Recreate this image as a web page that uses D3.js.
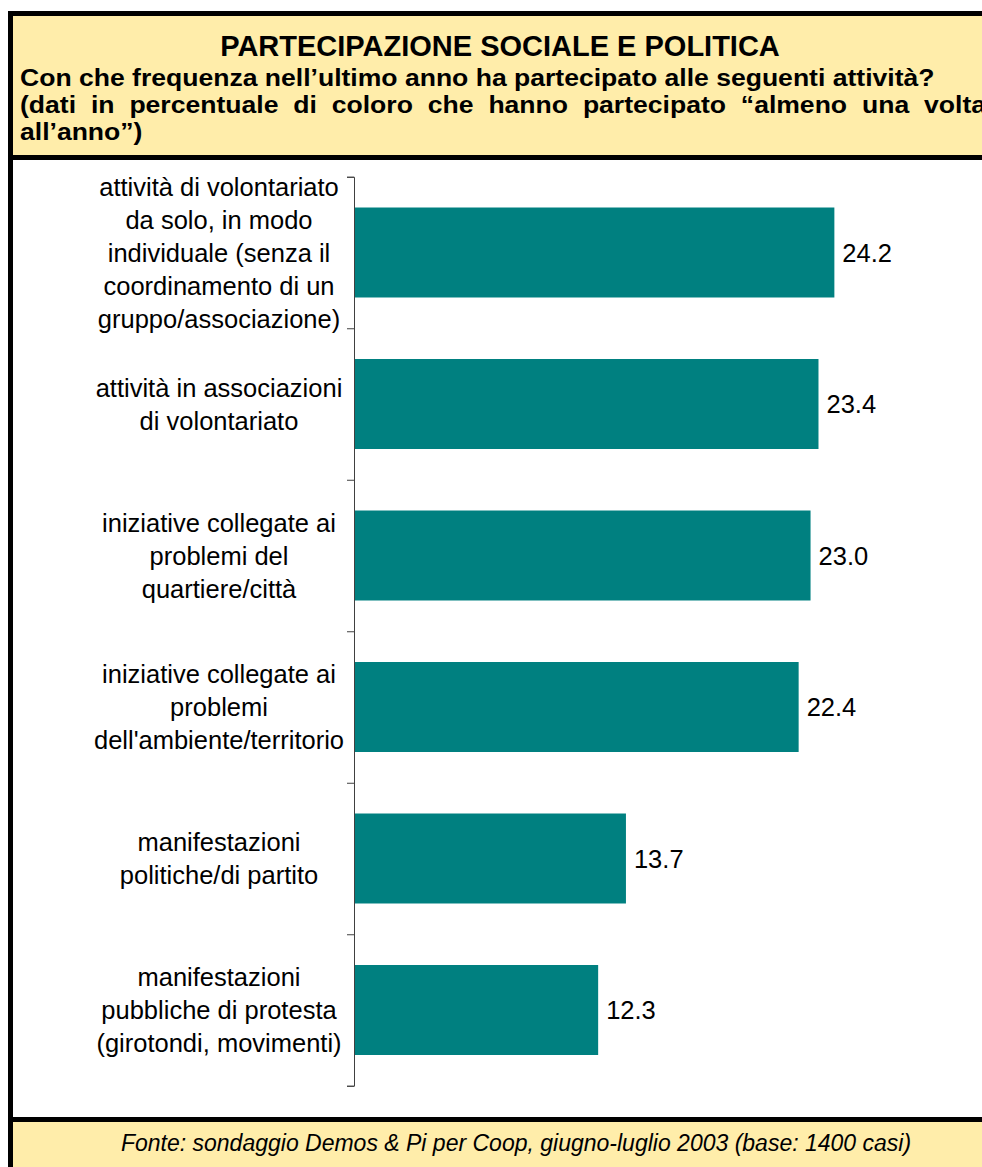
<!DOCTYPE html>
<html>
<head>
<meta charset="utf-8">
<script src="https://cdn.jsdelivr.net/npm/d3@7"></script>
<style>
	body { margin: 0; background: #fff; }
	text { font-family: "Liberation Sans", Arial, sans-serif; }
</style>
</head>
<body>
<div id="viz-holder"></div>
<script>
// categorie (righe dell'etichetta) e valori in %
let labelLines = [
	["attività di volontariato", "da solo, in modo", "individuale (senza il", "coordinamento di un", "gruppo/associazione)"],
	["attività in associazioni", "di volontariato"],
	["iniziative collegate ai", "problemi del", "quartiere/città"],
	["iniziative collegate ai", "problemi", "dell'ambiente/territorio"],
	["manifestazioni", "politiche/di partito"],
	["manifestazioni", "pubbliche di protesta", "(girotondi, movimenti)"]
];
let values = [24.2, 23.4, 23.0, 22.4, 13.7, 12.3];
let categories = labelLines.map(l => l.join(" "));

let title = "PARTECIPAZIONE SOCIALE E POLITICA";
let subtitle = [
	"Con che frequenza nell\u2019ultimo anno ha partecipato alle seguenti attività?",
	"(dati in percentuale di coloro che hanno partecipato \u201calmeno una volta",
	"all\u2019anno\u201d)"
];
let source = "Fonte: sondaggio Demos & Pi per Coop, giugno-luglio 2003 (base: 1400 casi)";

let width = 982, height = 1167;
let yellow = "#FFEDAA";

let svg = d3.select('#viz-holder')
	.append('svg')
	.attr('width', width)
	.attr('height', height);

// cornici
svg.append("rect").attr("x", 13).attr("y", 16).attr("width", width - 13).attr("height", 139).attr("fill", yellow);
svg.append("rect").attr("x", 13).attr("y", 1122).attr("width", width - 13).attr("height", 45).attr("fill", yellow);
svg.append("rect").attr("x", 8).attr("y", 11).attr("width", width - 8).attr("height", 5).attr("fill", "#000");
svg.append("rect").attr("x", 8).attr("y", 155).attr("width", width - 8).attr("height", 5).attr("fill", "#000");
svg.append("rect").attr("x", 8).attr("y", 1117).attr("width", width - 8).attr("height", 5).attr("fill", "#000");
svg.append("rect").attr("x", 8).attr("y", 11).attr("width", 5).attr("height", height - 11).attr("fill", "#000");

// titolo
svg.append("text")
	.attr("x", 500).attr("y", 56)
	.attr("text-anchor", "middle")
	.attr("font-size", 29).attr("font-weight", "bold")
	.text(title);

// sottotitolo: carattere un po' allargato come nell'originale
let subG = svg.append("g");
let sub = subG.selectAll(".sub")
	.data(subtitle)
	.enter()
	.append("text")
	.attr("class", "sub")
	.attr("y", (d, i) => 86 + i * 27)
	.attr("font-size", 23.5).attr("font-weight", "bold")
	.text(d => d);

let sx = 915 / sub.nodes()[0].getComputedTextLength();
subG.attr("transform", "scale(" + sx + ",1)");
sub.attr("x", 20 / sx);

// seconda riga giustificata
sub.filter((d, i) => i === 1).each(function (d) {
	let natural = this.getComputedTextLength();
	let spaces = d.split(" ").length - 1;
	let target = (986 - 20) / sx;
	d3.select(this).style("word-spacing", Math.max(0, (target - natural) / spaces) + "px");
});

// area grafico
let plotTop = 176.75, step = 151.5;
let plotBottom = plotTop + step * categories.length;

let y = d3.scaleBand()
	.domain(categories)
	.range([plotTop, plotBottom])
	.paddingInner(0.406)
	.paddingOuter(0.203);

let x = d3.scaleLinear()
	.domain([0, 30])
	.range([354, 354 + 19.85 * 30]);

let boundary = d3.scaleLinear()
	.domain([0, categories.length])
	.range([plotTop, plotBottom]);

svg.selectAll(".bar")
	.data(values)
	.enter()
	.append("rect")
	.attr("class", "bar")
	.attr("x", x(0))
	.attr("y", (d, i) => y(categories[i]))
	.attr("width", d => x(d) - x(0))
	.attr("height", y.bandwidth())
	.attr("fill", "#008080");

svg.selectAll(".val")
	.data(values)
	.enter()
	.append("text")
	.attr("class", "val")
	.attr("x", d => x(d) + 8)
	.attr("y", (d, i) => y(categories[i]) + y.bandwidth() / 2 + 9)
	.attr("font-size", 25.5)
	.text(d => d.toFixed(1));

let yAxis = d3.axisLeft(boundary)
	.tickValues(d3.range(0, categories.length + 1))
	.tickSize(7)
	.tickFormat("");

let axisG = svg.append("g")
	.attr("transform", "translate(" + x(0) + ",0)")
	.call(yAxis);
axisG.selectAll("path, line").attr("stroke", "#404040");

// etichette categorie
labelLines.forEach(function (lines, i) {
	let cy = y(categories[i]) + y.bandwidth() / 2;
	let lh = 33;
	let t = svg.append("text")
		.attr("text-anchor", "middle")
		.attr("font-size", 25.5);
	lines.forEach(function (line, j) {
		t.append("tspan")
			.attr("x", 219)
			.attr("y", cy + (j - (lines.length - 1) / 2) * lh + 9)
			.text(line);
	});
});

// fonte
svg.append("text")
	.attr("x", 516).attr("y", 1151)
	.attr("text-anchor", "middle")
	.attr("font-size", 23).attr("font-style", "italic")
	.text(source);
</script>
</body>
</html>
